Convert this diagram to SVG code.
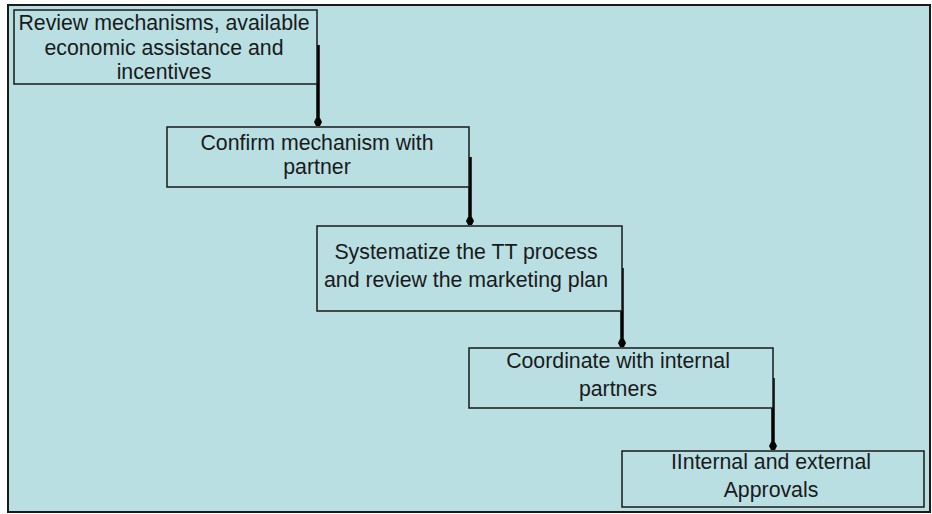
<svg xmlns="http://www.w3.org/2000/svg" width="932" height="514" viewBox="0 0 932 514">
  <style>
    .frame { fill: #b9dfe3; stroke: #1a1a1a; stroke-width: 2; }
    .box { fill: #b9dfe3; stroke: #1a1a1a; stroke-width: 1.5; }
    .label { font-family: "Liberation Sans", Arial, sans-serif; font-size: 21.3px; fill: #1a1a1a; text-anchor: middle; }
    .flow { fill: none; stroke: #000; stroke-width: 3.5; marker-end: url(#head); }
  </style>
  <defs>
    <marker id="head" viewBox="0 0 8 8" refX="4" refY="4" markerWidth="8" markerHeight="8" markerUnits="userSpaceOnUse" orient="auto">
      <path d="M0,2 L4,0 L8,2 L8,6 L4,8 L0,6 Z" fill="#000"/>
    </marker>
  </defs>

  <rect width="932" height="514" fill="#ffffff"/>
  <rect class="frame" x="8" y="5" width="922" height="507"/>

  <g id="connectors">
    <path class="flow" d="M318,45 V122"/>
    <path class="flow" d="M470,157 V221"/>
    <path class="flow" d="M622,268 V343"/>
    <path class="flow" d="M773,378 V446"/>
  </g>

  <g id="step1">
    <rect class="box" x="14" y="10" width="303" height="74"/>
    <text class="label" x="164" y="30">Review mechanisms, available</text>
    <text class="label" x="164" y="55">economic assistance and</text>
    <text class="label" x="164" y="79">incentives</text>
  </g>

  <g id="step2">
    <rect class="box" x="167" y="127" width="302" height="60"/>
    <text class="label" x="317" y="150">Confirm mechanism with</text>
    <text class="label" x="317" y="174">partner</text>
  </g>

  <g id="step3">
    <rect class="box" x="317" y="226" width="305" height="85"/>
    <text class="label" x="466" y="259">Systematize the TT process</text>
    <text class="label" x="466" y="287">and review the marketing plan</text>
  </g>

  <g id="step4">
    <rect class="box" x="469" y="348" width="304" height="60"/>
    <text class="label" x="618" y="368">Coordinate with internal</text>
    <text class="label" x="618" y="396">partners</text>
  </g>

  <g id="step5">
    <rect class="box" x="622" y="451" width="302" height="56"/>
    <text class="label" x="771" y="469">IInternal and external</text>
    <text class="label" x="771" y="497">Approvals</text>
  </g>
</svg>
